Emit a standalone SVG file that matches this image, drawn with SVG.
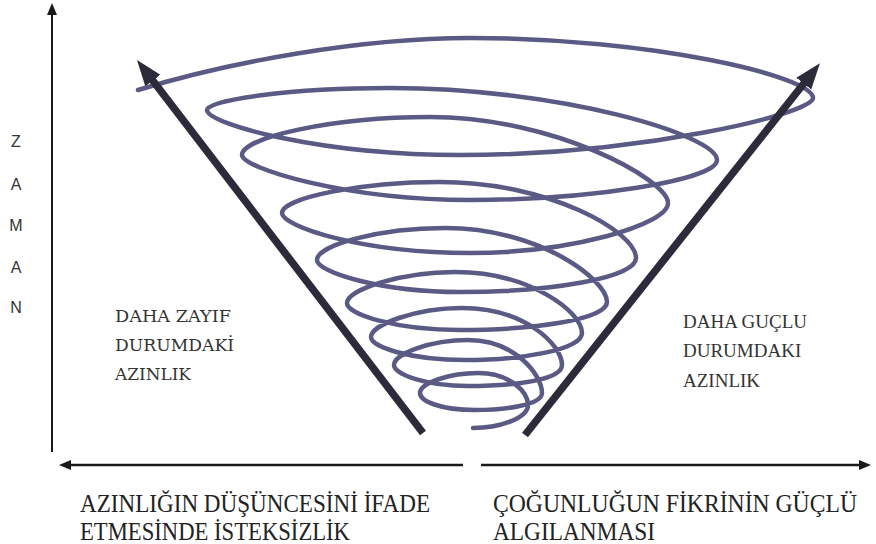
<svg xmlns="http://www.w3.org/2000/svg" width="876" height="544" viewBox="0 0 876 544">
  <defs>
    <style>
      .spiral { fill: none; stroke: #5a5a84; stroke-width: 4.5; stroke-linecap: round; stroke-linejoin: round; }
      .big { stroke: #2b2b3a; stroke-width: 7.5; stroke-linecap: butt; fill: none; }
      .axis { stroke: #1a1a1a; stroke-width: 2; fill: none; }
      .haxis { stroke: #1a1a1a; stroke-width: 2.5; fill: none; }
    </style>
    <marker id="bigHead" markerUnits="userSpaceOnUse" markerWidth="28" markerHeight="22" viewBox="0 -11 28 22" refX="2" refY="0" orient="auto">
      <path d="M0,-9.5 L26,0 L0,9.5 Z" fill="#2b2b3a"/>
    </marker>
    <marker id="smallHead" markerUnits="userSpaceOnUse" markerWidth="14" markerHeight="12" viewBox="0 -6 14 12" refX="1" refY="0" orient="auto">
      <path d="M0,-5 L12,0 L0,5 Z" fill="#1a1a1a"/>
    </marker>
  </defs>

  <rect width="876" height="544" fill="#ffffff"/>

  <g id="spiral">
    <path class="spiral" d="M138,90 C230,62 360,38 470,38 C650,38 813,76 813,98
      C813,114 640,155 460,155 C320,155 207,124 207,110
      C207,100 290,88 390,88 C560,88 717,135 717,160
      C717,180 590,200 470,200 C345,200 242,168 242,155
      C242,138 330,117 430,117 C555,117 668,180 668,203
      C668,225 570,253 470,253 C360,253 282,226 282,213
      C282,198 360,182 440,182 C550,182 636,232 636,258
      C636,278 550,292 460,292 C380,292 317,272 317,260
      C317,245 380,228 445,228 C540,228 607,280 607,302
      C607,320 530,330 460,330 C395,330 347,314 347,303
      C347,290 400,272 455,272 C530,272 582,312 582,333
      C582,350 520,360 465,360 C410,360 371,347 371,337
      C371,325 415,308 462,308 C525,308 562,345 562,365
      C562,380 515,386 468,386 C425,386 394,374 394,365
      C394,354 430,340 468,340 C515,340 542,375 542,393
      C542,405 505,410 475,410 C440,410 420,401 420,393
      C420,383 450,373 478,373 C510,373 528,392 528,405
      C528,418 500,428 473,428"/>
  </g>

  <g id="connectors">
    <line id="arrow-left" class="big" x1="423" y1="433" x2="151.6" y2="79" marker-end="url(#bigHead)"/>
    <line id="arrow-right" class="big" x1="525" y1="435" x2="805" y2="82" marker-end="url(#bigHead)"/>
    <line id="axis-time" class="axis" x1="52" y1="452" x2="52" y2="14" marker-end="url(#smallHead)"/>
    <line id="axis-left" class="haxis" x1="463" y1="465" x2="70" y2="465" marker-end="url(#smallHead)"/>
    <line id="axis-right" class="haxis" x1="481" y1="465" x2="860" y2="465" marker-end="url(#smallHead)"/>
  </g>

  <g id="label-zaman" font-family="Liberation Sans, sans-serif" font-size="16" fill="#333" text-anchor="middle">
    <text x="16" y="147">Z</text>
    <text x="16" y="190">A</text>
    <text x="16" y="231">M</text>
    <text x="16" y="273">A</text>
    <text x="16" y="313">N</text>
  </g>

  <g id="label-weak" font-family="DejaVu Serif, serif" font-size="17" fill="#333">
    <text x="115" y="322" textLength="116" lengthAdjust="spacingAndGlyphs">DAHA ZAYIF</text>
    <text x="115" y="351" textLength="119" lengthAdjust="spacingAndGlyphs">DURUMDAKİ</text>
    <text x="115" y="380" textLength="76" lengthAdjust="spacingAndGlyphs">AZINLIK</text>
  </g>

  <g id="label-strong" font-family="Liberation Serif, serif" font-size="19" fill="#333">
    <text x="683" y="328">DAHA GUÇLU</text>
    <text x="683" y="357">DURUMDAKI</text>
    <text x="683" y="387">AZINLIK</text>
  </g>

  <g id="label-bottom-left" font-family="Liberation Serif, serif" font-size="25" fill="#222">
    <text x="80" y="512" textLength="350" lengthAdjust="spacingAndGlyphs">AZINLIĞIN DÜŞÜNCESİNİ İFADE</text>
    <text x="80" y="540" textLength="270" lengthAdjust="spacingAndGlyphs">ETMESİNDE İSTEKSİZLİK</text>
  </g>

  <g id="label-bottom-right" font-family="Liberation Serif, serif" font-size="25" fill="#222">
    <text x="493" y="512" textLength="364" lengthAdjust="spacingAndGlyphs">ÇOĞUNLUĞUN FİKRİNİN GÜÇLÜ</text>
    <text x="493" y="540" textLength="162" lengthAdjust="spacingAndGlyphs">ALGILANMASI</text>
  </g>
</svg>
